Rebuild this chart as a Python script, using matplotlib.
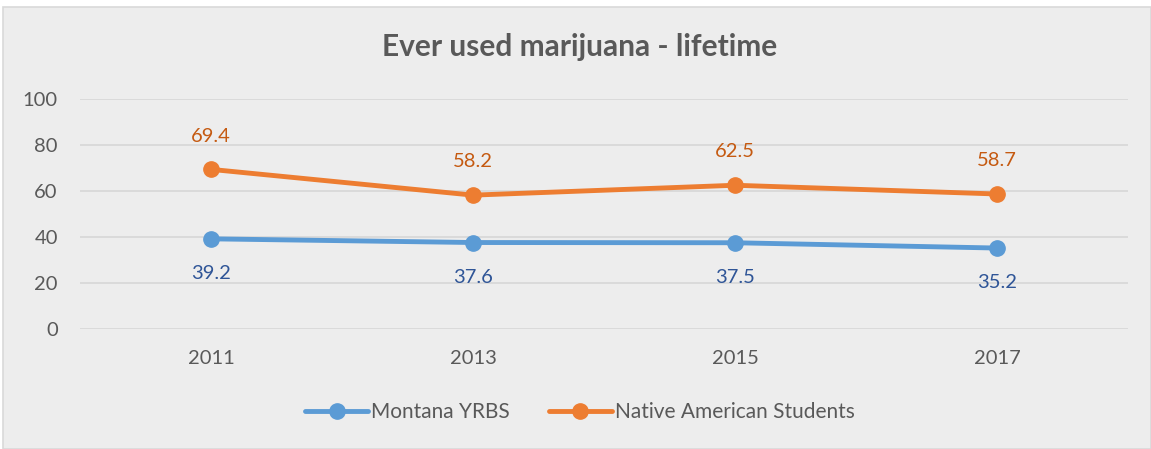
import matplotlib
matplotlib.use("Agg")
import matplotlib.pyplot as plt
from matplotlib.patches import Rectangle

years = ["2011", "2013", "2015", "2017"]
montana = [39.2, 37.6, 37.5, 35.2]
native = [69.4, 58.2, 62.5, 58.7]
series_names = ["Montana YRBS", "Native American Students"]
title = "Ever used marijuana - lifetime"
yticks = [0, 20, 40, 60, 80, 100]

plt.rcParams['font.family'] = ['Lato', 'DejaVu Sans']

W, H = 1151, 449
fig = plt.figure(figsize=(W/100, H/100), dpi=100)
fig.patch.set_facecolor('white')
bg = '#EDEDED'
fig.patches.append(Rectangle((3/W, 0), 1 - 3/W, 1 - 7/H, transform=fig.transFigure,
                             facecolor=bg, edgecolor='#D9D9D9', linewidth=1.2, zorder=-10))

ax = fig.add_axes([80/W, 1 - 329/H, (1128-80)/W, (329-99)/H])
ax.set_facecolor(bg)
ax.patch.set_alpha(0)
x = list(range(len(years)))
c_blue, c_orange = '#5B9BD5', '#ED7D31'
ax.plot(x, montana, color=c_blue, lw=3.5, marker='o', ms=11, label=series_names[0], zorder=3,
        solid_capstyle='round')
ax.plot(x, native, color=c_orange, lw=3.5, marker='o', ms=11, label=series_names[1], zorder=3,
        solid_capstyle='round')
for xi, v in zip(x, montana):
    ax.annotate(f"{v}", (xi, v), xytext=(0, -25), textcoords='offset points', ha='center',
                va='center', fontsize=14.5, color='#2F5597')
for xi, v in zip(x, native):
    ax.annotate(f"{v}", (xi, v), xytext=(0, 24), textcoords='offset points', ha='center',
                va='center', fontsize=14.5, color='#C55A11')

ax.set_xlim(-0.5, len(years) - 0.5)
ax.set_ylim(0, 100)
ax.set_yticks(yticks)
ax.set_xticks(x)
ax.set_xticklabels(years)
ax.tick_params(axis='both', length=0, labelsize=14.5, labelcolor='#595959')
ax.tick_params(axis='y', pad=16)
ax.tick_params(axis='x', pad=15)
ax.grid(axis='y', color='#D9D9D9', lw=1.3)
ax.set_axisbelow(True)
for s in ax.spines.values():
    s.set_visible(False)

fig.text(580/W, 1 - 47/H, title, ha='center', va='center', fontsize=21.5, fontweight='bold',
         color='#595959')
leg = fig.legend(loc='center', bbox_to_anchor=(580/W, 1 - 412/H), ncol=2, frameon=False,
                 fontsize=15, handlelength=3.0, handletextpad=0.15, columnspacing=1.9)
for t in leg.get_texts():
    t.set_color('#595959')

fig.savefig('out.png', dpi=100, facecolor='white')
